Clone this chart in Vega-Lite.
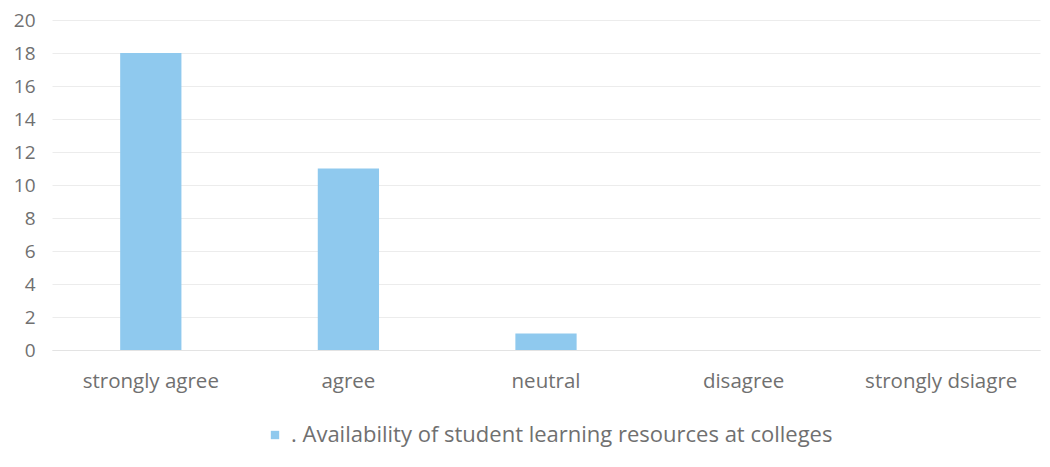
{
  "$schema": "https://vega.github.io/schema/vega-lite/v6.json",
  "width": 988,
  "height": 330,
  "autosize": {"type": "none"},
  "padding": {"left": 52, "top": 20, "right": 10, "bottom": 117},
  "background": "white",
  "data": {
    "values": [
      {"response": "strongly agree", "count": 18, "series": ". Availability of student learning resources at colleges"},
      {"response": "agree", "count": 11, "series": ". Availability of student learning resources at colleges"},
      {"response": "neutral", "count": 1, "series": ". Availability of student learning resources at colleges"},
      {"response": "disagree", "count": 0, "series": ". Availability of student learning resources at colleges"},
      {"response": "strongly dsiagre", "count": 0, "series": ". Availability of student learning resources at colleges"}
    ]
  },
  "config": {
    "view": {"stroke": null},
    "font": "Open Sans"
  },
  "mark": {"type": "bar", "color": "#8FC9EE"},
  "encoding": {
    "x": {
      "field": "response",
      "type": "nominal",
      "sort": null,
      "scale": {"paddingInner": 0.69, "paddingOuter": 0.345},
      "axis": {
        "title": null,
        "labelAngle": 0,
        "domain": true,
        "domainColor": "#e3e3e3",
        "ticks": false,
        "labelPadding": 21,
        "labelFontSize": 20.5,
        "labelColor": "#707070",
        "labelFont": "Open Sans"
      }
    },
    "y": {
      "field": "count",
      "type": "quantitative",
      "scale": {"domain": [0, 20], "nice": false},
      "axis": {
        "title": null,
        "values": [0, 2, 4, 6, 8, 10, 12, 14, 16, 18, 20],
        "domain": false,
        "ticks": false,
        "gridColor": "#ececec",
        "labelPadding": 17,
        "labelFontSize": 19,
        "labelColor": "#707070",
        "labelFont": "Open Sans"
      }
    },
    "color": {
      "field": "series",
      "type": "nominal",
      "scale": {"range": ["#8FC9EE"]},
      "legend": {
        "title": null,
        "orient": "none",
        "direction": "horizontal",
        "legendX": 212,
        "legendY": 404,
        "symbolType": "square",
        "symbolSize": 70,
        "labelFontSize": 22,
        "labelLimit": 0,
        "labelColor": "#707070",
        "labelFont": "Open Sans",
        "labelOffset": 5
      }
    }
  }
}
